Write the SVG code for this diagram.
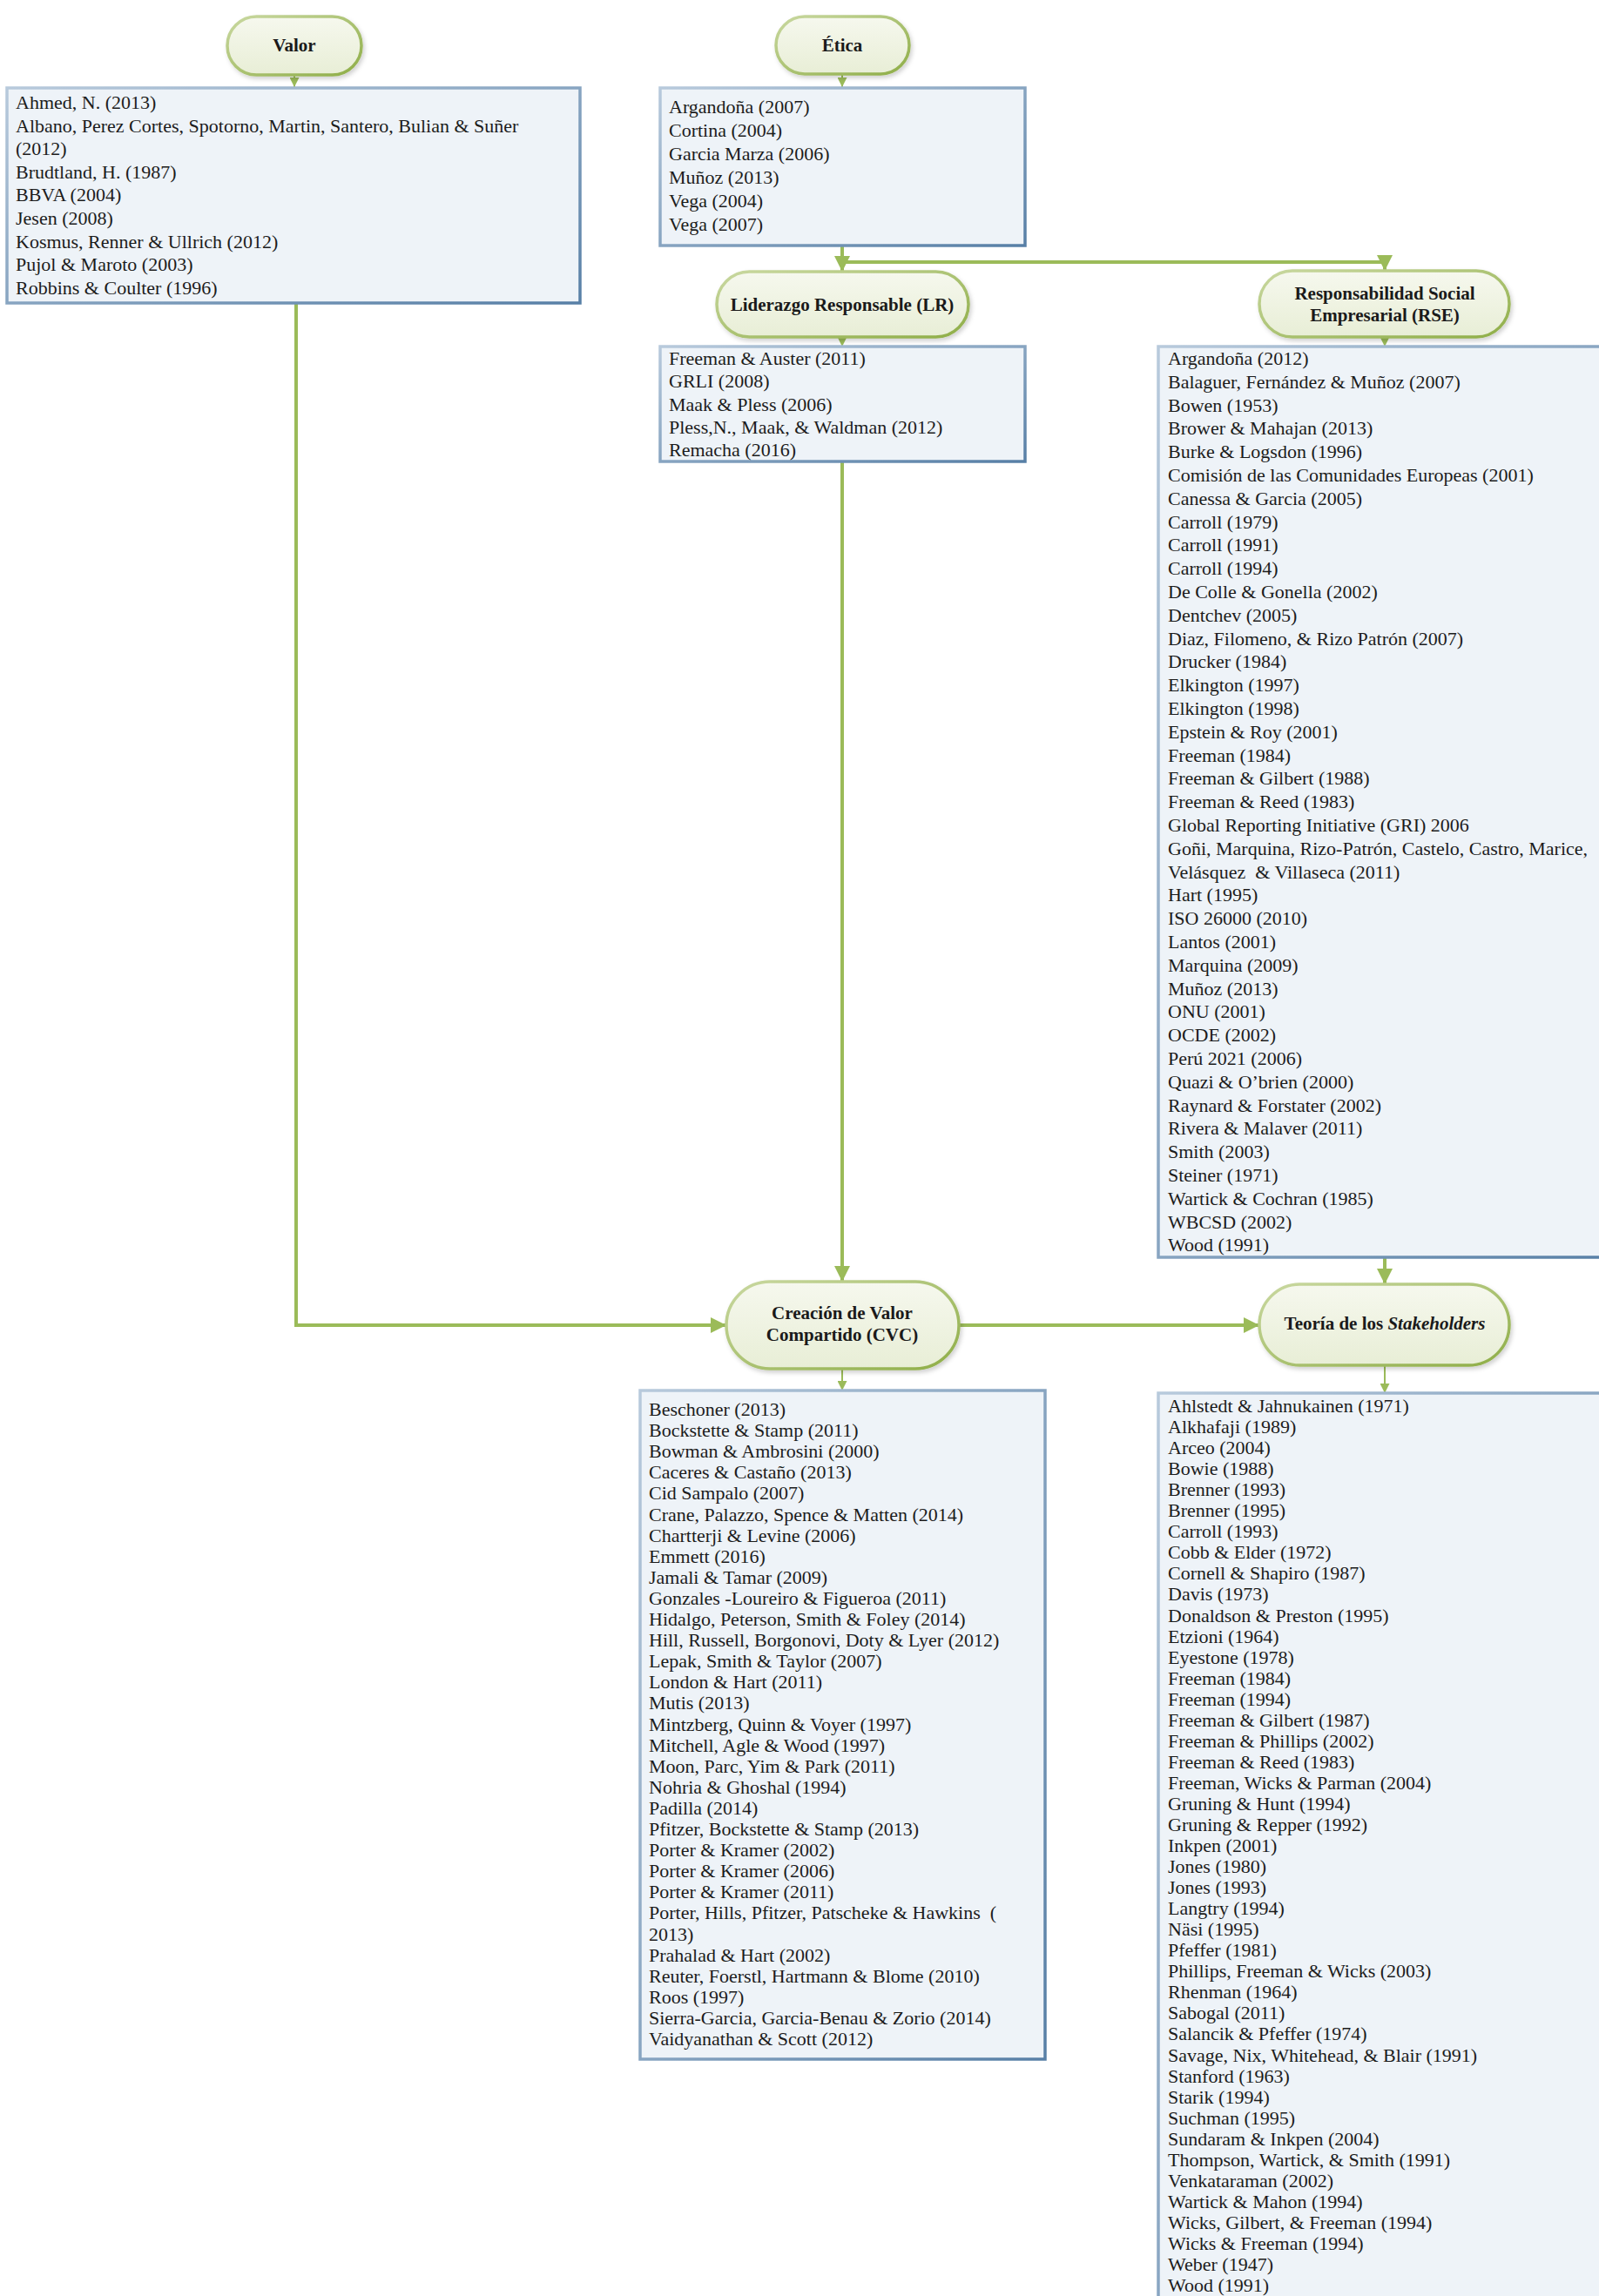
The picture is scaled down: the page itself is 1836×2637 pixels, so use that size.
<svg xmlns="http://www.w3.org/2000/svg" width="1836" height="2637" viewBox="0 0 1836 2637">
<defs>
<linearGradient id="pillFill" x1="0" y1="0" x2="0" y2="1">
<stop offset="0" stop-color="#f6f8ee"/>
<stop offset="1" stop-color="#e8eed6"/>
</linearGradient>
<linearGradient id="pillStroke" x1="0" y1="0" x2="1" y2="1">
<stop offset="0" stop-color="#c9d8a0"/>
<stop offset="1" stop-color="#8fae48"/>
</linearGradient>
<linearGradient id="boxStroke" x1="0" y1="0" x2="1" y2="1">
<stop offset="0" stop-color="#b8cadc"/>
<stop offset="1" stop-color="#577fa6"/>
</linearGradient>
<filter id="shadow" x="-10%" y="-10%" width="130%" height="140%">
<feDropShadow dx="2" dy="3" stdDeviation="2.5" flood-color="#000" flood-opacity="0.18"/>
</filter>
<marker id="arr" viewBox="0 0 10 10" refX="10" refY="5" markerWidth="18" markerHeight="18" markerUnits="userSpaceOnUse" orient="auto">
<path d="M0,0 L10,5 L0,10 z" fill="#9bbb59"/>
</marker>
<marker id="arrs" viewBox="0 0 10 10" refX="10" refY="5" markerWidth="11" markerHeight="11" markerUnits="userSpaceOnUse" orient="auto">
<path d="M0,0 L10,5 L0,10 z" fill="#9bbb59"/>
</marker>
</defs>
<style>
.pill{fill:url(#pillFill);stroke:url(#pillStroke);stroke-width:3.5;filter:url(#shadow)}
.box{fill:#eef3f8;stroke:url(#boxStroke);stroke-width:3.5}
.title{font-family:"Liberation Serif","Times New Roman",serif;font-weight:bold;font-size:21px;fill:#1a1a1a;text-anchor:middle}
.list{font-family:"Liberation Serif","Times New Roman",serif;font-size:22px;fill:#1c1c1c}
.conn{fill:none;stroke:#9bbb59;stroke-width:4}
.conns{fill:none;stroke:#9bbb59;stroke-width:2}
</style>
<rect width="1836" height="2637" fill="#ffffff"/>

<g id="connectors">
<path class="conn" d="M340,348 V1522 H834" marker-end="url(#arr)"/>
<path class="conn" d="M967,282 V312" marker-end="url(#arr)"/>
<path class="conn" d="M967,301 H1590 V311" marker-end="url(#arr)"/>
<path class="conn" d="M967,530 V1472" marker-end="url(#arr)"/>
<path class="conn" d="M1101,1522 H1446" marker-end="url(#arr)"/>
<path class="conn" d="M1590,1444 V1475" marker-end="url(#arr)"/>
<path class="conns" d="M338,86 V100" marker-end="url(#arrs)"/>
<path class="conns" d="M967,85 V100" marker-end="url(#arrs)"/>
<path class="conns" d="M967,387 V398" marker-end="url(#arrs)"/>
<path class="conns" d="M1590,387 V398" marker-end="url(#arrs)"/>
<path class="conns" d="M967,1572 V1597" marker-end="url(#arrs)"/>
<path class="conns" d="M1590,1568 V1600" marker-end="url(#arrs)"/>
</g>

<g id="valor">
<rect class="pill" x="261" y="19" width="154" height="67" rx="33.5"/>
<text class="title" x="338" y="59">Valor</text>
</g>
<g id="valor-refs">
<rect class="box" x="8" y="101" width="658" height="247"/>
<text class="list" x="18" y="125">
<tspan x="18" dy="0">Ahmed, N. (2013)</tspan>
<tspan x="18" dy="26.6">Albano, Perez Cortes, Spotorno, Martin, Santero, Bulian &amp; Suñer</tspan>
<tspan x="18" dy="26.6">(2012)</tspan>
<tspan x="18" dy="26.6">Brudtland, H. (1987)</tspan>
<tspan x="18" dy="26.6">BBVA (2004)</tspan>
<tspan x="18" dy="26.6">Jesen (2008)</tspan>
<tspan x="18" dy="26.6">Kosmus, Renner &amp; Ullrich (2012)</tspan>
<tspan x="18" dy="26.6">Pujol &amp; Maroto (2003)</tspan>
<tspan x="18" dy="26.6">Robbins &amp; Coulter (1996)</tspan>
</text>
</g>

<g id="etica">
<rect class="pill" x="891" y="19" width="153" height="66" rx="33"/>
<text class="title" x="967" y="59">Ética</text>
</g>
<g id="etica-refs">
<rect class="box" x="758" y="101" width="419" height="181"/>
<text class="list" x="768" y="130">
<tspan x="768" dy="0">Argandoña (2007)</tspan>
<tspan x="768" dy="27">Cortina (2004)</tspan>
<tspan x="768" dy="27">Garcia Marza (2006)</tspan>
<tspan x="768" dy="27">Muñoz (2013)</tspan>
<tspan x="768" dy="27">Vega (2004)</tspan>
<tspan x="768" dy="27">Vega (2007)</tspan>
</text>
</g>

<g id="lr">
<rect class="pill" x="823" y="312" width="289" height="75" rx="37.5"/>
<text class="title" x="967" y="357">Liderazgo Responsable (LR)</text>
</g>
<g id="lr-refs">
<rect class="box" x="758" y="398" width="419" height="132"/>
<text class="list" x="768" y="419">
<tspan x="768" dy="0">Freeman &amp; Auster (2011)</tspan>
<tspan x="768" dy="26.3">GRLI (2008)</tspan>
<tspan x="768" dy="26.3">Maak &amp; Pless (2006)</tspan>
<tspan x="768" dy="26.3">Pless,N., Maak, &amp; Waldman (2012)</tspan>
<tspan x="768" dy="26.3">Remacha (2016)</tspan>
</text>
</g>

<g id="rse">
<rect class="pill" x="1446" y="311" width="287" height="76" rx="38"/>
<text class="title" x="1590" y="344">Responsabilidad Social</text>
<text class="title" x="1590" y="369">Empresarial (RSE)</text>
</g>
<g id="rse-refs">
<rect class="box" x="1330" y="398" width="530" height="1046"/>
<text class="list" x="1341" y="419">
<tspan x="1341" dy="0">Argandoña (2012)</tspan>
<tspan x="1341" dy="26.8">Balaguer, Fernández &amp; Muñoz (2007)</tspan>
<tspan x="1341" dy="26.8">Bowen (1953)</tspan>
<tspan x="1341" dy="26.8">Brower &amp; Mahajan (2013)</tspan>
<tspan x="1341" dy="26.8">Burke &amp; Logsdon (1996)</tspan>
<tspan x="1341" dy="26.8">Comisión de las Comunidades Europeas (2001)</tspan>
<tspan x="1341" dy="26.8">Canessa &amp; Garcia (2005)</tspan>
<tspan x="1341" dy="26.8">Carroll (1979)</tspan>
<tspan x="1341" dy="26.8">Carroll (1991)</tspan>
<tspan x="1341" dy="26.8">Carroll (1994)</tspan>
<tspan x="1341" dy="26.8">De Colle &amp; Gonella (2002)</tspan>
<tspan x="1341" dy="26.8">Dentchev (2005)</tspan>
<tspan x="1341" dy="26.8">Diaz, Filomeno, &amp; Rizo Patrón (2007)</tspan>
<tspan x="1341" dy="26.8">Drucker (1984)</tspan>
<tspan x="1341" dy="26.8">Elkington (1997)</tspan>
<tspan x="1341" dy="26.8">Elkington (1998)</tspan>
<tspan x="1341" dy="26.8">Epstein &amp; Roy (2001)</tspan>
<tspan x="1341" dy="26.8">Freeman (1984)</tspan>
<tspan x="1341" dy="26.8">Freeman &amp; Gilbert (1988)</tspan>
<tspan x="1341" dy="26.8">Freeman &amp; Reed (1983)</tspan>
<tspan x="1341" dy="26.8">Global Reporting Initiative (GRI) 2006</tspan>
<tspan x="1341" dy="26.8">Goñi, Marquina, Rizo-Patrón, Castelo, Castro, Marice,</tspan>
<tspan x="1341" dy="26.8">Velásquez &#160;&amp; Villaseca (2011)</tspan>
<tspan x="1341" dy="26.8">Hart (1995)</tspan>
<tspan x="1341" dy="26.8">ISO 26000 (2010)</tspan>
<tspan x="1341" dy="26.8">Lantos (2001)</tspan>
<tspan x="1341" dy="26.8">Marquina (2009)</tspan>
<tspan x="1341" dy="26.8">Muñoz (2013)</tspan>
<tspan x="1341" dy="26.8">ONU (2001)</tspan>
<tspan x="1341" dy="26.8">OCDE (2002)</tspan>
<tspan x="1341" dy="26.8">Perú 2021 (2006)</tspan>
<tspan x="1341" dy="26.8">Quazi &amp; O’brien (2000)</tspan>
<tspan x="1341" dy="26.8">Raynard &amp; Forstater (2002)</tspan>
<tspan x="1341" dy="26.8">Rivera &amp; Malaver (2011)</tspan>
<tspan x="1341" dy="26.8">Smith (2003)</tspan>
<tspan x="1341" dy="26.8">Steiner (1971)</tspan>
<tspan x="1341" dy="26.8">Wartick &amp; Cochran (1985)</tspan>
<tspan x="1341" dy="26.8">WBCSD (2002)</tspan>
<tspan x="1341" dy="26.8">Wood (1991)</tspan>
</text>
</g>

<g id="cvc">
<rect class="pill" x="834" y="1472" width="267" height="100" rx="50"/>
<text class="title" x="967" y="1515">Creación de Valor</text>
<text class="title" x="967" y="1540">Compartido (CVC)</text>
</g>
<g id="cvc-refs">
<rect class="box" x="735" y="1597" width="465" height="768"/>
<text class="list" x="745" y="1626">
<tspan x="745" dy="0">Beschoner (2013)</tspan>
<tspan x="745" dy="24.1">Bockstette &amp; Stamp (2011)</tspan>
<tspan x="745" dy="24.1">Bowman &amp; Ambrosini (2000)</tspan>
<tspan x="745" dy="24.1">Caceres &amp; Castaño (2013)</tspan>
<tspan x="745" dy="24.1">Cid Sampalo (2007)</tspan>
<tspan x="745" dy="24.1">Crane, Palazzo, Spence &amp; Matten (2014)</tspan>
<tspan x="745" dy="24.1">Chartterji &amp; Levine (2006)</tspan>
<tspan x="745" dy="24.1">Emmett (2016)</tspan>
<tspan x="745" dy="24.1">Jamali &amp; Tamar (2009)</tspan>
<tspan x="745" dy="24.1">Gonzales -Loureiro &amp; Figueroa (2011)</tspan>
<tspan x="745" dy="24.1">Hidalgo, Peterson, Smith &amp; Foley (2014)</tspan>
<tspan x="745" dy="24.1">Hill, Russell, Borgonovi, Doty &amp; Lyer (2012)</tspan>
<tspan x="745" dy="24.1">Lepak, Smith &amp; Taylor (2007)</tspan>
<tspan x="745" dy="24.1">London &amp; Hart (2011)</tspan>
<tspan x="745" dy="24.1">Mutis (2013)</tspan>
<tspan x="745" dy="24.1">Mintzberg, Quinn &amp; Voyer (1997)</tspan>
<tspan x="745" dy="24.1">Mitchell, Agle &amp; Wood (1997)</tspan>
<tspan x="745" dy="24.1">Moon, Parc, Yim &amp; Park (2011)</tspan>
<tspan x="745" dy="24.1">Nohria &amp; Ghoshal (1994)</tspan>
<tspan x="745" dy="24.1">Padilla (2014)</tspan>
<tspan x="745" dy="24.1">Pfitzer, Bockstette &amp; Stamp (2013)</tspan>
<tspan x="745" dy="24.1">Porter &amp; Kramer (2002)</tspan>
<tspan x="745" dy="24.1">Porter &amp; Kramer (2006)</tspan>
<tspan x="745" dy="24.1">Porter &amp; Kramer (2011)</tspan>
<tspan x="745" dy="24.1">Porter, Hills, Pfitzer, Patscheke &amp; Hawkins &#160;(</tspan>
<tspan x="745" dy="24.1">2013)</tspan>
<tspan x="745" dy="24.1">Prahalad &amp; Hart (2002)</tspan>
<tspan x="745" dy="24.1">Reuter, Foerstl, Hartmann &amp; Blome (2010)</tspan>
<tspan x="745" dy="24.1">Roos (1997)</tspan>
<tspan x="745" dy="24.1">Sierra-Garcia, Garcia-Benau &amp; Zorio (2014)</tspan>
<tspan x="745" dy="24.1">Vaidyanathan &amp; Scott (2012)</tspan>
</text>
</g>

<g id="stakeholders">
<rect class="pill" x="1446" y="1475" width="287" height="93" rx="46.5"/>
<text class="title" x="1590" y="1527">Teoría de los <tspan font-style="italic">Stakeholders</tspan></text>
</g>
<g id="stakeholders-refs">
<rect class="box" x="1330" y="1600" width="530" height="1060"/>
<text class="list" x="1341" y="1622">
<tspan x="1341" dy="0">Ahlstedt &amp; Jahnukainen (1971)</tspan>
<tspan x="1341" dy="24.05">Alkhafaji (1989)</tspan>
<tspan x="1341" dy="24.05">Arceo (2004)</tspan>
<tspan x="1341" dy="24.05">Bowie (1988)</tspan>
<tspan x="1341" dy="24.05">Brenner (1993)</tspan>
<tspan x="1341" dy="24.05">Brenner (1995)</tspan>
<tspan x="1341" dy="24.05">Carroll (1993)</tspan>
<tspan x="1341" dy="24.05">Cobb &amp; Elder (1972)</tspan>
<tspan x="1341" dy="24.05">Cornell &amp; Shapiro (1987)</tspan>
<tspan x="1341" dy="24.05">Davis (1973)</tspan>
<tspan x="1341" dy="24.05">Donaldson &amp; Preston (1995)</tspan>
<tspan x="1341" dy="24.05">Etzioni (1964)</tspan>
<tspan x="1341" dy="24.05">Eyestone (1978)</tspan>
<tspan x="1341" dy="24.05">Freeman (1984)</tspan>
<tspan x="1341" dy="24.05">Freeman (1994)</tspan>
<tspan x="1341" dy="24.05">Freeman &amp; Gilbert (1987)</tspan>
<tspan x="1341" dy="24.05">Freeman &amp; Phillips (2002)</tspan>
<tspan x="1341" dy="24.05">Freeman &amp; Reed (1983)</tspan>
<tspan x="1341" dy="24.05">Freeman, Wicks &amp; Parman (2004)</tspan>
<tspan x="1341" dy="24.05">Gruning &amp; Hunt (1994)</tspan>
<tspan x="1341" dy="24.05">Gruning &amp; Repper (1992)</tspan>
<tspan x="1341" dy="24.05">Inkpen (2001)</tspan>
<tspan x="1341" dy="24.05">Jones (1980)</tspan>
<tspan x="1341" dy="24.05">Jones (1993)</tspan>
<tspan x="1341" dy="24.05">Langtry (1994)</tspan>
<tspan x="1341" dy="24.05">Näsi (1995)</tspan>
<tspan x="1341" dy="24.05">Pfeffer (1981)</tspan>
<tspan x="1341" dy="24.05">Phillips, Freeman &amp; Wicks (2003)</tspan>
<tspan x="1341" dy="24.05">Rhenman (1964)</tspan>
<tspan x="1341" dy="24.05">Sabogal (2011)</tspan>
<tspan x="1341" dy="24.05">Salancik &amp; Pfeffer (1974)</tspan>
<tspan x="1341" dy="24.05">Savage, Nix, Whitehead, &amp; Blair (1991)</tspan>
<tspan x="1341" dy="24.05">Stanford (1963)</tspan>
<tspan x="1341" dy="24.05">Starik (1994)</tspan>
<tspan x="1341" dy="24.05">Suchman (1995)</tspan>
<tspan x="1341" dy="24.05">Sundaram &amp; Inkpen (2004)</tspan>
<tspan x="1341" dy="24.05">Thompson, Wartick, &amp; Smith (1991)</tspan>
<tspan x="1341" dy="24.05">Venkataraman (2002)</tspan>
<tspan x="1341" dy="24.05">Wartick &amp; Mahon (1994)</tspan>
<tspan x="1341" dy="24.05">Wicks, Gilbert, &amp; Freeman (1994)</tspan>
<tspan x="1341" dy="24.05">Wicks &amp; Freeman (1994)</tspan>
<tspan x="1341" dy="24.05">Weber (1947)</tspan>
<tspan x="1341" dy="24.05">Wood (1991)</tspan>
</text>
</g>
</svg>
